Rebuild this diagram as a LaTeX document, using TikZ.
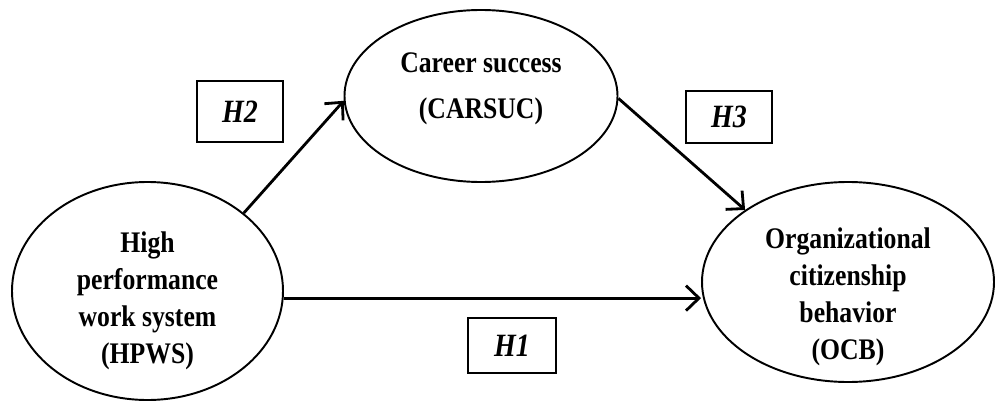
\documentclass[tikz,border=0pt]{standalone}
\usepackage{fontspec}
\setmainfont{Liberation Serif}[FakeStretch=0.86]
\usepackage{tikz}
\usetikzlibrary{shapes.geometric}
\usetikzlibrary{arrows.meta}
\usetikzlibrary{positioning}

\begin{document}
\begin{tikzpicture}[
construct/.style={ellipse,draw,line width=1.1pt,inner sep=0pt},
txt/.style={inner sep=0pt,align=center,
  font=\fontsize{17}{21}\selectfont\bfseries},
hyp/.style={draw,line width=1.6pt,inner sep=0pt,
  font=\fontsize{18.5}{20}\selectfont\bfseries\itshape},
path/.style={line width=1.6pt,-{Straight Barb[length=2.6mm,width=5mm,line width=1.6pt]}}
]
\useasboundingbox (0,0) rectangle (19.9,8.02);
\node[construct,minimum width=5.42cm,minimum height=4.36cm,
  label={[txt,yshift=-0.2cm]center:High\\performance\\work system\\(HPWS)}] (hpws) at (2.95,2.20) {};
\node[construct,minimum width=5.46cm,minimum height=3.44cm,
  label={[txt,font=\fontsize{17}{26}\selectfont\bfseries,yshift=0.14cm]center:Career success\\(CARSUC)}] (carsuc) at (9.62,6.10) {};
\node[construct,minimum width=5.84cm,minimum height=4.00cm,
  label={[txt,yshift=-0.3cm]center:Organizational\\citizenship\\behavior\\(OCB)}] (ocb) at (16.96,2.38) {};
\node[hyp,minimum width=1.72cm,minimum height=1.22cm] (h2) at (4.80,5.79) {H2};
\node[hyp,minimum width=1.72cm,minimum height=1.04cm] (h3) at (14.58,5.68) {H3};
\node[hyp,minimum width=1.76cm,minimum height=1.10cm] (h1) at (10.24,1.11) {H1};
\draw[path] (hpws.39) -- (carsuc.182);
\draw[path] (carsuc.-1) -- (ocb.145);
\draw[path] (hpws.-3) -- (hpws.-3 -| ocb.west);
\end{tikzpicture}
\end{document}
